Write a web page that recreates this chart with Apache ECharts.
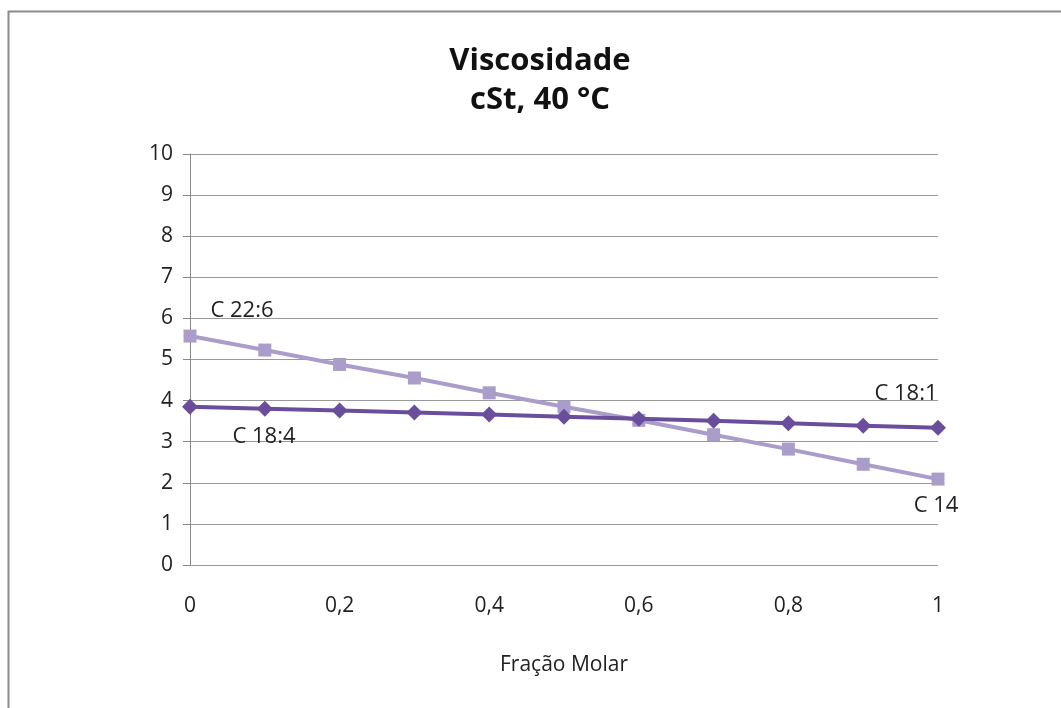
<!DOCTYPE html>
<html>
<head>
<meta charset="utf-8">
<script src="https://cdn.jsdelivr.net/npm/echarts@6/dist/echarts.min.js"></script>
<style>
html,body{margin:0;padding:0;background:#fff;}
#c{width:1061px;height:708px;}
</style>
</head>
<body>
<div id="c"></div>
<script>
var fractions = [0, 0.1, 0.2, 0.3, 0.4, 0.5, 0.6, 0.7, 0.8, 0.9, 1];
var c18_4 = [3.85, 3.80, 3.76, 3.71, 3.66, 3.61, 3.56, 3.51, 3.45, 3.39, 3.34];
var c22_6 = [5.57, 5.23, 4.88, 4.55, 4.19, 3.85, 3.52, 3.17, 2.82, 2.45, 2.09];
var xTicks = [0, 0.2, 0.4, 0.6, 0.8, 1];
var yTicks = [0, 1, 2, 3, 4, 5, 6, 7, 8, 9, 10];

var FONT = 'Open Sans';
var lblStyle = {color: '#222', fontSize: 22, fontFamily: FONT};

function build(vals, firstLabel, lastLabel) {
  return vals.map(function (v, i) {
    var d = {value: [fractions[i], v]};
    if (i === 0 && firstLabel) d.label = Object.assign({show: true, formatter: firstLabel.text, position: firstLabel.pos, offset: firstLabel.off}, lblStyle);
    if (i === vals.length - 1 && lastLabel) d.label = Object.assign({show: true, formatter: lastLabel.text, position: lastLabel.pos, offset: lastLabel.off}, lblStyle);
    return d;
  });
}

var chart = echarts.init(document.getElementById('c'));
chart.setOption({
  animation: false,
  backgroundColor: '#fff',
  graphic: [
    {type: 'rect', left: 6, top: 9, shape: {width: 1100, height: 800}, style: {fill: 'none', stroke: '#8c8c8c', lineWidth: 2}, z: -1},
    {type: 'text', x: 540, y: 42, style: {text: 'Viscosidade\ncSt, 40 °C', fill: '#111', font: 'bold 31px "Open Sans"', textAlign: 'center', lineHeight: 39}}
  ],
  grid: {left: 190, right: 123, top: 154, bottom: 143},
  xAxis: {
    type: 'value', min: 0, max: 1, interval: 0.2,
    name: 'Fração Molar', nameLocation: 'middle', nameGap: 90,
    nameTextStyle: {color: '#222', fontSize: 21, fontFamily: FONT},
    axisLine: {show: false}, axisTick: {show: false}, splitLine: {show: false},
    axisLabel: {color: '#222', fontSize: 21, fontFamily: FONT, margin: 31,
      formatter: function (v) { return xTicks.indexOf(+v.toFixed(1)) >= 0 ? String(+v.toFixed(1)).replace('.', ',') : ''; }}
  },
  yAxis: {
    type: 'value', min: 0, max: 10, interval: 1,
    axisLine: {show: true, lineStyle: {color: '#888', width: 1}},
    axisTick: {show: true, length: 7, lineStyle: {color: '#888'}},
    splitLine: {show: true, lineStyle: {color: '#999', width: 1}},
    axisLabel: {color: '#222', fontSize: 21, fontFamily: FONT, margin: 17,
      formatter: function (v) { return yTicks.indexOf(v) >= 0 ? String(v) : ''; }}
  },
  series: [
    {
      name: 'C 22:6', type: 'line',
      data: build(c22_6, {text: 'C 22:6', pos: 'top', off: [52, -3]}, {text: 'C 14', pos: 'bottom', off: [-2, 4]}),
      symbol: 'rect', symbolSize: 13,
      lineStyle: {color: '#aa9dca', width: 4},
      itemStyle: {color: '#aa9dca'},
      z: 2
    },
    {
      name: 'C 18:4', type: 'line',
      data: build(c18_4, {text: 'C 18:4', pos: 'bottom', off: [74, 6]}, {text: 'C 18:1', pos: 'top', off: [-32, -10]}),
      symbol: 'diamond', symbolSize: 16,
      lineStyle: {color: '#6a4e9c', width: 4},
      itemStyle: {color: '#6a4e9c'},
      z: 3
    }
  ]
});
</script>
</body>
</html>
